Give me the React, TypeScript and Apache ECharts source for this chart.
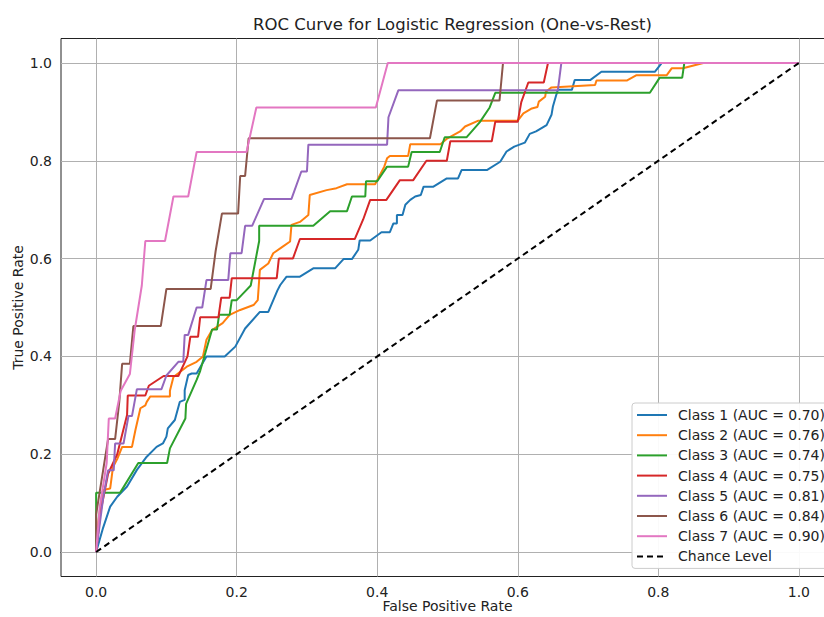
import React, { useEffect, useRef } from "react";
import * as echarts from "echarts";

const classNames = ["Class 1", "Class 2", "Class 3", "Class 4", "Class 5", "Class 6", "Class 7"];
const aucValues = [0.7, 0.76, 0.74, 0.75, 0.81, 0.84, 0.9];
const colors = ["#1f77b4", "#ff7f0e", "#2ca02c", "#d62728", "#9467bd", "#8c564b", "#e377c2"];
const tickValues = [0, 0.2, 0.4, 0.6, 0.8, 1.0];
const chanceLabel = "Chance Level";
const chanceLine = [[0, 0], [1, 1]];

const class1Roc = [
  [0, 0], [0.01, 0.05], [0.02, 0.093], [0.03, 0.113], [0.044, 0.134], [0.058, 0.168], [0.072, 0.195],
  [0.086, 0.215], [0.095, 0.222], [0.1, 0.236], [0.102, 0.253], [0.112, 0.27], [0.119, 0.307],
  [0.126, 0.311], [0.126, 0.331], [0.131, 0.362], [0.136, 0.365], [0.143, 0.365], [0.157, 0.4],
  [0.183, 0.4], [0.198, 0.42], [0.212, 0.457], [0.233, 0.491], [0.245, 0.491], [0.258, 0.535],
  [0.262, 0.546], [0.271, 0.563], [0.29, 0.563], [0.309, 0.58], [0.34, 0.58], [0.352, 0.599],
  [0.364, 0.599], [0.373, 0.618], [0.375, 0.637], [0.39, 0.637], [0.406, 0.654], [0.418, 0.654],
  [0.423, 0.672], [0.428, 0.672], [0.428, 0.689], [0.436, 0.689], [0.44, 0.71], [0.447, 0.72],
  [0.454, 0.727], [0.462, 0.73], [0.466, 0.747], [0.48, 0.747], [0.499, 0.764], [0.515, 0.764],
  [0.52, 0.781], [0.556, 0.781], [0.575, 0.798], [0.584, 0.819], [0.595, 0.829], [0.61, 0.837],
  [0.617, 0.855], [0.626, 0.86], [0.641, 0.873], [0.648, 0.894], [0.65, 0.911], [0.654, 0.931],
  [0.657, 0.945], [0.677, 0.945], [0.681, 0.965], [0.703, 0.965], [0.719, 0.982], [0.795, 0.982],
  [0.805, 1], [1, 1],
];

const class2Roc = [
  [0, 0], [0.003, 0.06], [0.008, 0.113], [0.01, 0.127], [0.02, 0.13], [0.024, 0.174], [0.03, 0.19],
  [0.037, 0.215], [0.051, 0.215], [0.056, 0.25], [0.063, 0.294], [0.07, 0.3], [0.072, 0.307],
  [0.077, 0.318], [0.105, 0.318], [0.105, 0.33], [0.11, 0.358], [0.129, 0.379], [0.143, 0.389],
  [0.152, 0.4], [0.157, 0.434], [0.165, 0.454], [0.18, 0.468], [0.19, 0.485], [0.205, 0.495],
  [0.224, 0.505], [0.23, 0.515], [0.233, 0.577], [0.245, 0.59], [0.252, 0.611], [0.265, 0.624],
  [0.276, 0.635], [0.278, 0.669], [0.29, 0.675], [0.302, 0.689], [0.304, 0.73], [0.328, 0.74],
  [0.342, 0.744], [0.357, 0.752], [0.397, 0.752], [0.41, 0.788], [0.414, 0.805], [0.418, 0.81],
  [0.444, 0.81], [0.447, 0.834], [0.49, 0.834], [0.5, 0.846], [0.518, 0.86], [0.525, 0.87],
  [0.544, 0.882], [0.6, 0.882], [0.608, 0.897], [0.62, 0.907], [0.628, 0.91], [0.63, 0.921],
  [0.639, 0.931], [0.64, 0.941], [0.648, 0.95], [0.71, 0.955], [0.712, 0.964], [0.755, 0.964],
  [0.769, 0.975], [0.812, 0.975], [0.819, 0.989], [0.835, 0.989], [0.864, 1], [1, 1],
];

const class3Roc = [
  [0, 0], [0, 0.121], [0.034, 0.121], [0.06, 0.182], [0.101, 0.182], [0.105, 0.212], [0.127, 0.273],
  [0.128, 0.303], [0.143, 0.352], [0.148, 0.37], [0.165, 0.455], [0.172, 0.455], [0.175, 0.485],
  [0.19, 0.485], [0.193, 0.515], [0.2, 0.515], [0.21, 0.53], [0.22, 0.545], [0.232, 0.636],
  [0.232, 0.667], [0.309, 0.667], [0.333, 0.697], [0.357, 0.697], [0.364, 0.727], [0.383, 0.727],
  [0.384, 0.758], [0.4, 0.758], [0.414, 0.788], [0.444, 0.788], [0.449, 0.818], [0.489, 0.818],
  [0.496, 0.848], [0.527, 0.848], [0.546, 0.879], [0.56, 0.909], [0.568, 0.939], [0.788, 0.939],
  [0.802, 0.97], [0.834, 0.97], [0.837, 1], [1, 1],
];

const class4Roc = [
  [0, 0], [0.006, 0.08], [0.017, 0.16], [0.03, 0.2], [0.044, 0.28], [0.045, 0.32], [0.07, 0.32],
  [0.075, 0.34], [0.096, 0.36], [0.117, 0.36], [0.13, 0.4], [0.134, 0.44], [0.145, 0.44],
  [0.148, 0.48], [0.174, 0.48], [0.178, 0.52], [0.19, 0.52], [0.193, 0.56], [0.257, 0.56],
  [0.26, 0.6], [0.28, 0.6], [0.29, 0.64], [0.368, 0.64], [0.38, 0.68], [0.39, 0.72], [0.413, 0.72],
  [0.432, 0.76], [0.451, 0.76], [0.47, 0.8], [0.499, 0.8], [0.504, 0.84], [0.563, 0.84],
  [0.568, 0.88], [0.6, 0.88], [0.605, 0.92], [0.615, 0.96], [0.637, 0.96], [0.643, 1], [1, 1],
];

const class5Roc = [
  [0, 0], [0.01, 0.111], [0.017, 0.167], [0.025, 0.167], [0.027, 0.222], [0.039, 0.222],
  [0.046, 0.278], [0.051, 0.278], [0.058, 0.333], [0.093, 0.333], [0.1, 0.361], [0.117, 0.389],
  [0.124, 0.389], [0.126, 0.444], [0.131, 0.444], [0.143, 0.5], [0.151, 0.5], [0.157, 0.556],
  [0.188, 0.556], [0.191, 0.611], [0.207, 0.611], [0.212, 0.667], [0.222, 0.667], [0.239, 0.722],
  [0.278, 0.722], [0.292, 0.778], [0.3, 0.778], [0.302, 0.833], [0.414, 0.833], [0.416, 0.889],
  [0.43, 0.944], [0.657, 0.944], [0.662, 1], [1, 1],
];

const class6Roc = [
  [0, 0], [0, 0.077], [0.017, 0.231], [0.027, 0.231], [0.033, 0.308], [0.037, 0.385],
  [0.048, 0.385], [0.053, 0.462], [0.092, 0.462], [0.1, 0.538], [0.163, 0.538], [0.17, 0.615],
  [0.179, 0.692], [0.202, 0.692], [0.205, 0.769], [0.212, 0.769], [0.217, 0.846], [0.475, 0.846],
  [0.485, 0.923], [0.574, 0.923], [0.579, 1], [1, 1],
];

const class7Roc = [
  [0, 0], [0.005, 0.091], [0.015, 0.182], [0.018, 0.273], [0.027, 0.273], [0.035, 0.33],
  [0.048, 0.364], [0.055, 0.455], [0.065, 0.545], [0.07, 0.636], [0.098, 0.636], [0.11, 0.727],
  [0.131, 0.727], [0.143, 0.818], [0.214, 0.818], [0.228, 0.909], [0.398, 0.909], [0.415, 1], [1, 1],
];

const rocCurves = [class1Roc, class2Roc, class3Roc, class4Roc, class5Roc, class6Roc, class7Roc];

const FONT = "DejaVu Sans";

export default function App() {
  const ref = useRef<HTMLDivElement>(null);

  useEffect(() => {
    if (!ref.current) return;
    const chart = echarts.init(ref.current, null, { renderer: "svg" });

    const legendNames = classNames.map((c, i) => `${c} (AUC = ${aucValues[i].toFixed(2)})`);

    const curveSeries = rocCurves.map((pts, i) => ({
      name: legendNames[i],
      type: "line",
      data: pts,
      symbol: "none",
      showSymbol: false,
      z: 3,
      lineStyle: { color: colors[i], width: 2 },
      itemStyle: { color: colors[i] },
    }));

    const option: any = {
      animation: false,
      backgroundColor: "#ffffff",
      title: {
        text: "ROC Curve for Logistic Regression (One-vs-Rest)",
        left: 447.5,
        top: 11,
        textAlign: "center",
        textStyle: { fontFamily: FONT, fontSize: 16.5, fontWeight: "normal", color: "#222" },
      },
      grid: {
        left: 61,
        top: 38.5,
        width: 773,
        height: 538,
        show: true,
        borderColor: "#222",
        borderWidth: 1,
        backgroundColor: "transparent",
        containLabel: false,
        outerBoundsMode: "none",
      },
      xAxis: {
        type: "value",
        min: -0.05,
        max: 1.05,
        name: "False Positive Rate",
        nameLocation: "middle",
        nameGap: 22,
        nameMoveOverlap: false,
        nameTextStyle: { fontFamily: FONT, fontSize: 14, color: "#222" },
        axisLine: { show: true, lineStyle: { color: "#222", width: 1 } },
        axisTick: { show: true, length: 5, customValues: tickValues, lineStyle: { color: "#222" } },
        axisLabel: {
          customValues: tickValues,
          formatter: (v: number) => v.toFixed(1),
          margin: 8,
          fontFamily: FONT,
          fontSize: 14,
          color: "#222",
        },
        splitLine: { show: false },
      },
      yAxis: {
        type: "value",
        min: -0.05,
        max: 1.05,
        name: "True Positive Rate",
        nameLocation: "middle",
        nameGap: 36,
        nameMoveOverlap: false,
        nameTextStyle: { fontFamily: FONT, fontSize: 14, color: "#222" },
        axisLine: { show: true, lineStyle: { color: "#222", width: 1 } },
        axisTick: { show: true, length: 5, customValues: tickValues, lineStyle: { color: "#222" } },
        axisLabel: {
          customValues: tickValues,
          formatter: (v: number) => v.toFixed(1),
          margin: 9,
          fontFamily: FONT,
          fontSize: 14,
          color: "#222",
        },
        splitLine: { show: false },
      },
      legend: {
        orient: "vertical",
        left: 632,
        top: 403,
        z: 20,
        padding: [5, 8, 5, 4],
        itemWidth: 30,
        itemHeight: 12,
        itemGap: 6.2,
        backgroundColor: "rgba(255,255,255,0.93)",
        borderColor: "#cccccc",
        borderWidth: 1,
        borderRadius: 3,
        itemStyle: { opacity: 0 },
        data: [...legendNames, chanceLabel],
        textStyle: { fontFamily: FONT, fontSize: 14, color: "#222", padding: [0, 0, 0, 6] },
      },
      series: [
        {
          name: "grid-lines",
          type: "line",
          data: [[0, 0]],
          symbol: "none",
          z: 1,
          lineStyle: { opacity: 0 },
          silent: true,
          markLine: {
            silent: true,
            z: 1,
            symbol: ["none", "none"],
            label: { show: false },
            lineStyle: { color: "#b0b0b0", width: 1, type: "solid" },
            data: [
              ...tickValues.map((v) => ({ xAxis: v })),
              ...tickValues.map((v) => ({ yAxis: v })),
            ],
          },
        },
        ...curveSeries,
        {
          name: chanceLabel,
          type: "line",
          data: chanceLine,
          symbol: "none",
          z: 4,
          lineStyle: { color: "#000000", width: 2, type: [6, 4] },
          itemStyle: { color: "#000000" },
        },
      ],
    };

    chart.setOption(option);
    return () => chart.dispose();
  }, []);

  return (
    <div
      ref={ref}
      style={{ position: "absolute", left: 0, top: 0, width: 824, height: 617 }}
    />
  );
}
